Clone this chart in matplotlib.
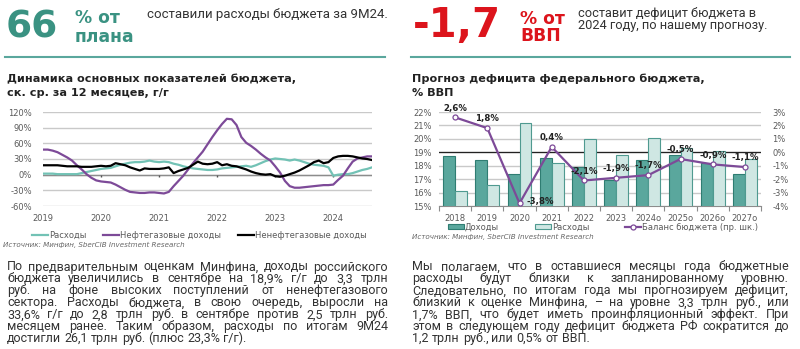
import matplotlib
matplotlib.use("Agg")
import matplotlib.pyplot as plt
from matplotlib.patches import Patch
from matplotlib.lines import Line2D
import numpy as np

plt.rcParams['font.family'] = ['DejaVu Sans']

W, H = 800, 349
fig = plt.figure(figsize=(8, 3.49), dpi=100)


def fx(px):
    return px / W


def fy(py):
    return 1 - py / H


# ---- 12-month rolling growth, y/y, %, monthly Jan 2019 .. Sep 2024 ----
spending = [2, 2, 2, 1, 1, 1, 1, 1, 3, 5, 7, 9,
            11, 12, 13, 16, 19, 21, 23, 24, 24, 25, 27, 25,
            24, 25, 24, 21, 19, 16, 14, 12, 11, 10, 9, 9,
            10, 12, 13, 14, 15, 16, 17, 15, 18, 22, 26, 29,
            31, 30, 29, 27, 29, 27, 24, 21, 19, 18, 17, 14,
            -2, 0, 1, 1, 3, 6, 9, 11, 14]
oil_gas = [48, 48, 46, 43, 38, 33, 27, 18, 10, 1, -6, -11,
           -13, -14, -15, -19, -24, -29, -33, -34, -35, -35, -34, -34,
           -35, -36, -33, -22, -12, -2, 10, 22, 33, 44, 58, 72,
           85, 97, 107, 106, 95, 72, 61, 55, 48, 40, 33, 27,
           16, 4, -12, -22, -25, -25, -24, -23, -22, -21, -20, -20,
           -19, -10, -2, 12, 25, 31, 33, 35, 35]
non_oil_gas = [18, 18, 18, 18, 17, 16, 16, 16, 15, 15, 15, 16,
               17, 16, 17, 22, 20, 18, 14, 11, 8, 12, 11, 11,
               11, 12, 14, 3, 7, 10, 13, 19, 25, 21, 20, 21,
               24, 18, 20, 17, 16, 13, 10, 6, 3, 1, 0, 1,
               -3, -4, -2, 1, 4, 8, 13, 18, 24, 27, 22, 24,
               32, 35, 36, 36, 35, 33, 31, 30, 28]
start_year = 2019
left_years = [2019, 2020, 2021, 2022, 2023, 2024]
left_yticks = [-60, -30, 0, 30, 60, 90, 120]

# ---- federal budget, % of GDP ----
budget_years = ['2018', '2019', '2020', '2021', '2022', '2023',
                '2024о', '2025о', '2026о', '2027о']
revenue = [18.7, 18.4, 17.4, 18.6, 17.9, 16.9, 18.4, 18.8, 18.2, 17.4]
expenditure = [16.1, 16.6, 21.2, 18.2, 20.0, 18.8, 20.1, 19.3, 19.1, 18.5]
balance = [2.6, 1.8, -3.8, 0.4, -2.1, -1.9, -1.7, -0.5, -0.9, -1.1]

TEAL = '#5aa79d'
TEAL_EDGE = '#2f7d72'
LIGHT = '#cfe7e3'
LIGHT_EDGE = '#4f9a90'
LINE_TEAL = '#72c2b5'
PURPLE = '#7d4a98'
RED = '#dc141c'
GRID = '#c9c9c9'
TICK = '#5a5a5a'
DARK = '#333333'
TICK_SIZE = 6.0
LEG_SIZE = 6.0
BODY_FONT = ['Roboto', 'DejaVu Sans']

# ================= left chart =================
axl = fig.add_axes([fx(43), fy(206), fx(372) - fx(43), fy(112) - fy(206)])
t = start_year + np.arange(len(spending)) / 12
axl.plot(t, spending, color=LINE_TEAL, lw=1.6, zorder=3)
axl.plot(t, oil_gas, color=PURPLE, lw=1.6, zorder=4)
axl.plot(t, non_oil_gas, color='black', lw=1.6, zorder=5)
axl.set_xlim(start_year, t[-1])
axl.set_ylim(-60, 120)
axl.set_yticks(left_yticks)
axl.set_yticklabels([f'{v}%' for v in left_yticks])
axl.yaxis.grid(True, color=GRID, lw=1.0)
axl.axhline(0, color='#8c8c8c', lw=1.0, zorder=2)
axl.vlines(left_years[1:], -5, 0, color='#555555', lw=1.0, zorder=2)
axl.set_xticks(left_years)
axl.set_xticklabels([str(y) for y in left_years])
axl.tick_params(axis='both', length=0, labelsize=TICK_SIZE, labelcolor=TICK)
axl.tick_params(axis='y', pad=8)
axl.tick_params(axis='x', pad=6)
for s in axl.spines.values():
    s.set_visible(False)
axl.set_axisbelow(True)

fig.legend(
    [Line2D([], [], color=LINE_TEAL, lw=1.6),
     Line2D([], [], color=PURPLE, lw=1.6),
     Line2D([], [], color='black', lw=1.6)],
    ['Расходы', 'Нефтегазовые доходы', 'Ненефтегазовые доходы'],
    loc='center left', bbox_to_anchor=(fx(32), fy(235)), ncol=3,
    frameon=False, fontsize=LEG_SIZE, handlelength=1.9, handletextpad=0.15,
    columnspacing=2.0, labelcolor=TICK, borderpad=0, borderaxespad=0)
fig.text(fx(3), fy(246.5), 'Источник: Минфин, SberCIB Investment Research',
         fontsize=5.1, style='italic', color='#666666', va='baseline')

# ================= right chart =================
axr = fig.add_axes([fx(439), fy(206), fx(761) - fx(439), fy(112) - fy(206)])
x = np.arange(len(budget_years))
bw = 0.37
axr.bar(x - bw / 2, revenue, width=bw, color=TEAL, edgecolor=TEAL_EDGE,
        lw=0.8, zorder=3)
axr.bar(x + bw / 2, expenditure, width=bw, color=LIGHT, edgecolor=LIGHT_EDGE,
        lw=0.8, zorder=3)
axr.set_xlim(-0.5, len(budget_years) - 0.5)
axr.set_ylim(15, 22)
axr.set_yticks(range(15, 23))
axr.set_yticklabels([f'{v}%' for v in range(15, 23)])
axr.yaxis.grid(True, color=GRID, lw=1.0)
axr.set_axisbelow(True)
axr.set_xticks(x)
axr.set_xticklabels(budget_years)
axr.set_xticks(np.arange(-0.5, len(budget_years)), minor=True)
axr.tick_params(axis='x', which='major', length=0, pad=6)
axr.tick_params(axis='x', which='minor', length=3.5, color='#8c8c8c', width=0.8)
axr.tick_params(axis='y', length=0, pad=5)
axr.tick_params(labelsize=TICK_SIZE, labelcolor=TICK)
for side in ('top', 'left', 'right'):
    axr.spines[side].set_visible(False)
axr.spines['bottom'].set_color('#8c8c8c')

ax2 = axr.twinx()
ax2.set_ylim(-4, 3)
ax2.set_yticks(range(-4, 4))
ax2.set_yticklabels([f'{v}%' for v in range(-4, 4)])
ax2.tick_params(axis='y', length=0, pad=8, labelsize=TICK_SIZE, labelcolor=TICK)
for s in ax2.spines.values():
    s.set_visible(False)
axr.axhline(19, color='#222222', lw=0.9, zorder=2)
ax2.plot(x, balance, color=PURPLE, lw=1.6, marker='o', ms=3.6,
         mfc='white', mec=PURPLE, mew=0.9, zorder=5)
for xi, b in zip(x, balance):
    lbl = f'{b:.1f}%'.replace('.', ',')
    if b == min(balance):
        ax2.annotate(lbl, (xi, b), xytext=(5, 1), textcoords='offset points',
                     ha='left', va='center', fontsize=6.2, weight='bold',
                     color='#222222', zorder=6)
    else:
        ax2.annotate(lbl, (xi, b), xytext=(0, 3.5), textcoords='offset points',
                     ha='center', va='bottom', fontsize=6.2, weight='bold',
                     color='#222222', zorder=6)

fig.legend(
    [Patch(facecolor=TEAL, edgecolor=TEAL_EDGE, lw=0.8),
     Patch(facecolor=LIGHT, edgecolor=LIGHT_EDGE, lw=0.8),
     Line2D([], [], color=PURPLE, lw=1.6, marker='o', ms=3.6,
            mfc='white', mec=PURPLE, mew=0.9)],
    ['Доходы', 'Расходы', 'Баланс бюджета (пр. шк.)'],
    loc='center left', bbox_to_anchor=(fx(448), fy(227)), ncol=3,
    frameon=False, fontsize=LEG_SIZE, handlelength=1.9, handleheight=0.6,
    handletextpad=0.15, columnspacing=4.3, labelcolor=TICK,
    borderpad=0, borderaxespad=0)
fig.text(fx(412), fy(238.5), 'Источник: Минфин, SberCIB Investment Research',
         fontsize=5.1, style='italic', color='#666666', va='baseline')

# ================= headers =================
fig.text(fx(6), fy(37.5), '66', fontsize=27, weight='bold', color='#3a9282',
         va='baseline')
fig.text(fx(75), fy(23), '% от', fontsize=12.3, weight='bold',
         color='#3a9282', va='baseline')
fig.text(fx(75), fy(42), 'плана', fontsize=12.3, weight='bold',
         color='#3a9282', va='baseline')
fig.text(fx(147), fy(18), 'составили расходы бюджета за 9М24.', fontsize=9.5,
         color=DARK, va='baseline', family=BODY_FONT)

fig.text(fx(413), fy(37), '-1,7', fontsize=29, weight='bold', color=RED,
         va='baseline')
fig.text(fx(520), fy(24), '% от', fontsize=12.3, weight='bold', color=RED,
         va='baseline')
fig.text(fx(520), fy(41), 'ВВП', fontsize=12.3, weight='bold', color=RED,
         va='baseline')
fig.text(fx(578), fy(17.5), 'составит дефицит бюджета в', fontsize=9.2,
         color=DARK, va='baseline', family=BODY_FONT)
fig.text(fx(578), fy(29.5), '2024 году, по нашему прогнозу.', fontsize=9.2,
         color=DARK, va='baseline', family=BODY_FONT)

for x0, x1 in ((5, 385), (411, 790)):
    fig.add_artist(Line2D([fx(x0), fx(x1)], [fy(57), fy(57)],
                          color=TEAL, lw=1.5))

TITLE_SIZE = 8.1
fig.text(fx(7), fy(82.5), 'Динамика основных показателей бюджета,',
         fontsize=TITLE_SIZE, weight='bold', color='#222222', va='baseline')
fig.text(fx(7), fy(96.5), 'ск. ср. за 12 месяцев, г/г',
         fontsize=TITLE_SIZE, weight='bold', color='#222222', va='baseline')
fig.text(fx(412), fy(82.5), 'Прогноз дефицита федерального бюджета,',
         fontsize=TITLE_SIZE, weight='bold', color='#222222', va='baseline')
fig.text(fx(412), fy(96.5), '% ВВП',
         fontsize=TITLE_SIZE, weight='bold', color='#222222', va='baseline')

# ================= body text (justified) =================
left_par = [
    'По предварительным оценкам Минфина, доходы российского',
    'бюджета увеличились в сентябре на 18,9% г/г до 3,3 трлн',
    'руб. на фоне высоких поступлений от ненефтегазового',
    'сектора. Расходы бюджета, в свою очередь, выросли на',
    '33,6% г/г до 2,8 трлн руб. в сентябре против 2,5 трлн руб.',
    'месяцем ранее. Таким образом, расходы по итогам 9М24',
    'достигли 26,1 трлн руб. (плюс 23,3% г/г).',
]
right_par = [
    'Мы полагаем, что в оставшиеся месяцы года бюджетные',
    'расходы будут близки к запланированному уровню.',
    'Следовательно, по итогам года мы прогнозируем дефицит,',
    'близкий к оценке Минфина, – на уровне 3,3 трлн руб., или',
    '1,7% ВВП, что будет иметь проинфляционный эффект. При',
    'этом в следующем году дефицит бюджета РФ сократится до',
    '1,2 трлн руб., или 0,5% от ВВП.',
]

renderer = fig.canvas.get_renderer()


def justified(lines, x0, x1, base0, step, size, color):
    for i, line in enumerate(lines):
        words = line.split(' ')
        y = fy(base0 + i * step)
        items = [fig.text(0, y, w, fontsize=size, color=color,
                          va='baseline', family=BODY_FONT) for w in words]
        widths = [it.get_window_extent(renderer).width for it in items]
        if i == len(lines) - 1:
            gap = 0.26 * size * 100 / 72
        else:
            gap = (x1 - x0 - sum(widths)) / (len(words) - 1)
            if gap < 2.0:
                # squeeze glyphs slightly so the line still fits
                k = (x1 - x0 - 2.0 * (len(words) - 1)) / sum(widths)
                for it in items:
                    it.set_fontsize(size * k)
                widths = [w * k for w in widths]
                gap = 2.0
        pos = x0
        for it, w in zip(items, widths):
            it.set_x(fx(pos))
            pos += w + gap


justified(left_par, 7, 388, 270.5, 11.95, 9.0, DARK)
justified(right_par, 412, 789, 270.5, 11.95, 9.0, DARK)

fig.savefig('out.png', dpi=100)
